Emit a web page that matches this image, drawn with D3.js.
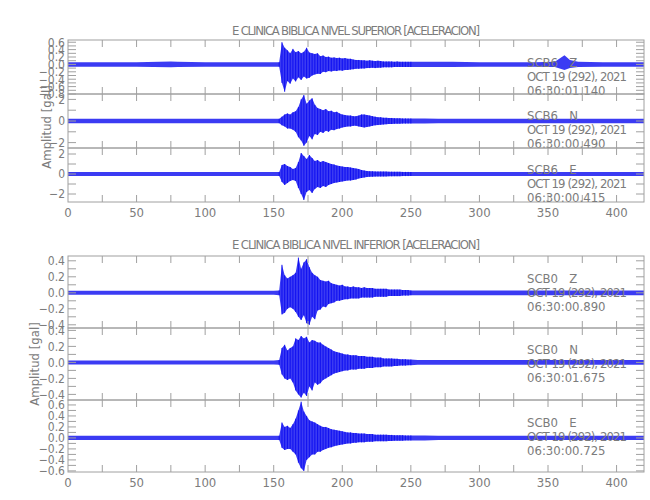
<!DOCTYPE html>
<html><head><meta charset="utf-8">
<script src="https://cdn.jsdelivr.net/npm/d3@7"></script>
<style>body{margin:0;background:#fff}</style>
</head><body><svg id="c" width="650" height="500"></svg>
<script>
// time grid (s)
const timeGrid = [0,25,50,75,80,100,125,150,
 154,156,158,160,162,164,166,168,170,172,
 174,176,178,180,182,184,186,188,190,192,
 194,196,198,200,202,204,206,208,210,212,
 214,216,218,220,222,224,226,228,230,232,
 234,236,238,240,242,244,246,248,250,
 255,260,270,280,300,320,340,355,362,366,372,390,420];

// SCB6 Z envelope
const scb6ZHi = [0.06,0.06,0.06,0.08,0.07,0.06,0.06,0.06,
 0.06,0.60,0.45,0.38,0.30,0.42,0.33,0.36,0.30,0.34,
 0.45,0.32,0.30,0.28,0.30,0.22,0.24,0.20,0.21,0.18,
 0.19,0.17,0.18,0.16,0.17,0.15,0.15,0.13,0.12,0.12,
 0.11,0.11,0.10,0.11,0.10,0.09,0.10,0.09,0.08,0.08,
 0.08,0.08,0.07,0.08,0.07,0.07,0.07,0.07,0.07,
 0.07,0.07,0.07,0.07,0.06,0.06,0.06,0.07,0.25,0.12,0.07,0.06,0.06];
const scb6ZLo = [-0.06,-0.06,-0.06,-0.08,-0.07,-0.06,-0.06,-0.06,
 -0.06,-0.50,-0.74,-0.45,-0.52,-0.38,-0.46,-0.35,-0.42,-0.33,
 -0.38,-0.36,-0.30,-0.27,-0.25,-0.26,-0.20,-0.21,-0.18,-0.19,
 -0.17,-0.18,-0.16,-0.17,-0.15,-0.15,-0.14,-0.13,-0.12,-0.12,
 -0.11,-0.11,-0.10,-0.10,-0.09,-0.10,-0.09,-0.09,-0.08,-0.08,
 -0.08,-0.08,-0.07,-0.07,-0.07,-0.07,-0.07,-0.07,-0.07,
 -0.07,-0.07,-0.07,-0.07,-0.06,-0.06,-0.06,-0.07,-0.15,-0.10,-0.07,-0.06,-0.06];

// SCB6 N envelope
const scb6NHi = [0.2,0.2,0.2,0.2,0.2,0.2,0.2,0.2,
 0.2,0.4,0.6,0.7,0.6,0.8,0.9,1.3,2.0,2.4,
 1.6,1.9,2.1,1.5,1.2,1.1,1.0,1.1,0.9,0.95,
 0.8,0.85,0.7,0.6,0.55,0.5,0.5,0.45,0.45,0.5,
 0.6,0.6,0.55,0.5,0.45,0.4,0.35,0.35,0.3,0.3,
 0.28,0.28,0.26,0.25,0.25,0.24,0.24,0.23,0.23,
 0.22,0.22,0.21,0.21,0.2,0.2,0.2,0.2,0.2,0.2,0.2,0.2,0.2];
const scb6NLo = [-0.2,-0.2,-0.2,-0.2,-0.2,-0.2,-0.2,-0.2,
 -0.2,-0.4,-0.5,-0.7,-0.7,-0.8,-1.0,-1.5,-1.8,-2.3,
 -2.0,-1.4,-1.7,-1.2,-1.3,-1.0,-1.1,-0.9,-1.0,-0.8,
 -0.85,-0.75,-0.7,-0.6,-0.55,-0.5,-0.5,-0.45,-0.45,-0.5,
 -0.55,-0.6,-0.55,-0.5,-0.45,-0.4,-0.38,-0.35,-0.32,-0.3,
 -0.28,-0.28,-0.26,-0.25,-0.25,-0.24,-0.24,-0.23,-0.23,
 -0.22,-0.22,-0.21,-0.21,-0.2,-0.2,-0.2,-0.2,-0.2,-0.2,-0.2,-0.2,-0.2];

// SCB6 E envelope
const scb6EHi = [0.2,0.2,0.2,0.2,0.2,0.2,0.2,0.2,
 0.2,0.9,1.0,0.8,0.7,0.5,0.6,1.2,2.1,1.8,
 1.5,1.9,1.6,1.3,1.4,1.2,1.3,1.2,1.1,1.0,
 0.95,0.85,0.8,0.75,0.7,0.7,0.65,0.6,0.55,0.5,
 0.4,0.35,0.3,0.28,0.27,0.26,0.25,0.25,0.24,0.24,
 0.23,0.23,0.22,0.22,0.22,0.21,0.21,0.21,0.2,
 0.2,0.2,0.2,0.2,0.2,0.2,0.2,0.2,0.2,0.2,0.2,0.2,0.2];
const scb6ELo = [-0.2,-0.2,-0.2,-0.2,-0.2,-0.2,-0.2,-0.2,
 -0.2,-0.8,-1.1,-0.9,-0.7,-0.6,-0.7,-1.4,-2.0,-2.6,
 -1.8,-1.6,-1.9,-1.5,-1.3,-1.4,-1.2,-1.3,-1.1,-1.0,
 -0.9,-0.85,-0.8,-0.75,-0.7,-0.65,-0.65,-0.6,-0.55,-0.45,
 -0.4,-0.35,-0.3,-0.28,-0.27,-0.26,-0.25,-0.25,-0.24,-0.24,
 -0.23,-0.23,-0.22,-0.22,-0.22,-0.21,-0.21,-0.21,-0.2,
 -0.2,-0.2,-0.2,-0.2,-0.2,-0.2,-0.2,-0.2,-0.2,-0.2,-0.2,-0.2,-0.2];

// SCB0 Z envelope
const scb0ZHi = [0.025,0.025,0.025,0.025,0.025,0.025,0.025,0.025,
 0.03,0.35,0.22,0.18,0.20,0.22,0.25,0.44,0.30,0.38,
 0.42,0.32,0.25,0.22,0.20,0.16,0.15,0.14,0.15,0.12,
 0.11,0.10,0.09,0.10,0.08,0.08,0.07,0.08,0.07,0.07,
 0.06,0.07,0.06,0.06,0.06,0.05,0.05,0.05,0.05,0.05,
 0.04,0.04,0.04,0.04,0.04,0.035,0.035,0.035,0.03,
 0.03,0.03,0.03,0.03,0.03,0.03,0.03,0.03,0.03,0.03,0.03,0.03,0.03];
const scb0ZLo = [-0.025,-0.025,-0.025,-0.025,-0.025,-0.025,-0.025,-0.025,
 -0.03,-0.27,-0.25,-0.20,-0.18,-0.20,-0.24,-0.30,-0.34,-0.28,
 -0.38,-0.40,-0.30,-0.33,-0.22,-0.21,-0.17,-0.18,-0.14,-0.13,
 -0.12,-0.10,-0.10,-0.09,-0.08,-0.08,-0.07,-0.07,-0.07,-0.07,
 -0.06,-0.06,-0.06,-0.06,-0.06,-0.05,-0.05,-0.05,-0.05,-0.05,
 -0.04,-0.04,-0.04,-0.04,-0.04,-0.035,-0.035,-0.035,-0.03,
 -0.03,-0.03,-0.03,-0.03,-0.03,-0.03,-0.03,-0.03,-0.03,-0.03,-0.03,-0.03,-0.03];

// SCB0 N envelope
const scb0NHi = [0.025,0.025,0.025,0.025,0.025,0.025,0.025,0.025,
 0.03,0.18,0.22,0.15,0.18,0.20,0.30,0.28,0.33,0.30,
 0.32,0.25,0.28,0.27,0.25,0.25,0.22,0.20,0.18,0.16,
 0.14,0.13,0.12,0.11,0.10,0.10,0.09,0.09,0.09,0.08,
 0.08,0.08,0.07,0.07,0.07,0.06,0.06,0.06,0.05,0.05,
 0.05,0.05,0.045,0.045,0.04,0.04,0.04,0.035,0.035,
 0.03,0.03,0.03,0.03,0.03,0.03,0.03,0.03,0.03,0.03,0.03,0.03,0.03];
const scb0NLo = [-0.025,-0.025,-0.025,-0.025,-0.025,-0.025,-0.025,-0.025,
 -0.03,-0.15,-0.20,-0.22,-0.20,-0.25,-0.35,-0.40,-0.44,-0.38,
 -0.42,-0.30,-0.35,-0.25,-0.28,-0.26,-0.22,-0.20,-0.18,-0.16,
 -0.14,-0.13,-0.12,-0.11,-0.10,-0.10,-0.09,-0.09,-0.09,-0.08,
 -0.08,-0.08,-0.07,-0.07,-0.07,-0.06,-0.06,-0.06,-0.05,-0.05,
 -0.05,-0.05,-0.045,-0.045,-0.04,-0.04,-0.04,-0.035,-0.035,
 -0.03,-0.03,-0.03,-0.03,-0.03,-0.03,-0.03,-0.03,-0.03,-0.03,-0.03,-0.03,-0.03];

// SCB0 E envelope
const scb0EHi = [0.04,0.04,0.04,0.04,0.04,0.04,0.04,0.04,
 0.04,0.28,0.20,0.22,0.18,0.25,0.35,0.50,0.66,0.48,
 0.40,0.32,0.30,0.28,0.25,0.22,0.20,0.20,0.18,0.16,
 0.15,0.14,0.13,0.12,0.11,0.10,0.10,0.09,0.09,0.08,
 0.08,0.08,0.07,0.07,0.07,0.06,0.06,0.06,0.06,0.06,
 0.055,0.055,0.05,0.05,0.05,0.05,0.045,0.045,0.045,
 0.045,0.045,0.04,0.04,0.04,0.04,0.04,0.04,0.04,0.04,0.04,0.04,0.04];
const scb0ELo = [-0.04,-0.04,-0.04,-0.04,-0.04,-0.04,-0.04,-0.04,
 -0.04,-0.18,-0.22,-0.20,-0.20,-0.25,-0.30,-0.45,-0.55,-0.60,
 -0.40,-0.35,-0.30,-0.30,-0.25,-0.25,-0.22,-0.20,-0.18,-0.17,
 -0.15,-0.14,-0.13,-0.12,-0.11,-0.10,-0.10,-0.09,-0.09,-0.08,
 -0.08,-0.08,-0.07,-0.07,-0.07,-0.06,-0.06,-0.06,-0.06,-0.06,
 -0.055,-0.055,-0.05,-0.05,-0.05,-0.05,-0.045,-0.045,-0.045,
 -0.045,-0.045,-0.04,-0.04,-0.04,-0.04,-0.04,-0.04,-0.04,-0.04,-0.04,-0.04,-0.04];

const groupTitles = ["E CLINICA BIBLICA NIVEL SUPERIOR [ACELERACION]",
                     "E CLINICA BIBLICA NIVEL INFERIOR [ACELERACION]"];
const stationLabels = ["SCB6   Z","SCB6   N","SCB6   E","SCB0   Z","SCB0   N","SCB0   E"];
const dateLabel = "OCT 19 (292), 2021";
const startTimes = ["06:30:01.140","06:30:00.490","06:30:00.415",
                    "06:30:00.890","06:30:01.675","06:30:00.725"];
const yAxisTitle = "Amplitud [gal]";
const xDomain = [0, 420];
const xTickLabels = [0,50,100,150,200,250,300,350,400];
const xMinorTicks = d3.range(0, 420, 25);
const yDomains = [[-0.8,0.66],[-2.5,2.5],[-2.8,2.6],[-0.44,0.46],[-0.47,0.43],[-0.62,0.69]];
const yLabelValues = [[0.6,0.4,0.2,0,-0.2,-0.4,-0.6,-0.8],[2,0,-2],[2,0,-2],
                      [0.4,0.2,0,-0.2,-0.4],[0.4,0.2,0,-0.2,-0.4],[0.6,0.4,0.2,0,-0.2,-0.4,-0.6]];
const yTickStep = [0.1,1,1,0.1,0.1,0.1];
const yDecimals = [1,0,0,1,1,1];

const hiSeries = [scb6ZHi,scb6NHi,scb6EHi,scb0ZHi,scb0NHi,scb0EHi];
const loSeries = [scb6ZLo,scb6NLo,scb6ELo,scb0ZLo,scb0NLo,scb0ELo];

// ---- layout ----
const svg = d3.select("#c");
const left = 68, right = 644;
const panelRows = [[40,94],[94,148],[148,202],[256,328],[328,400],[400,472]];
const FONT = "'Liberation Sans Narrow','DejaVu Sans Condensed',sans-serif";
const TXT = "#7c7c7c", AX = "#a0a0a0", TRACE = "#0a0af0";
const x = d3.scaleLinear().domain(xDomain).range([left, right]);
const fmtMinus = s => s.replace("-", "\u2212");

const defs = svg.append("defs");

panelRows.forEach(([top, bot], i) => {
  const y = d3.scaleLinear().domain(yDomains[i]).range([bot, top]);
  defs.append("clipPath").attr("id","cp"+i).append("rect")
    .attr("x",left).attr("y",top).attr("width",right-left).attr("height",bot-top);
  const g = svg.append("g");
  const data = timeGrid.map((t,k)=>({t, hi:hiSeries[i][k], lo:loSeries[i][k]}));
  const tr = g.append("g").attr("clip-path","url(#cp"+i+")");
  const area = d3.area().x(d=>x(d.t)).y0(d=>y(d.lo)).y1(d=>y(d.hi));
  tr.append("path").datum(data).attr("d",area)
    .attr("fill",TRACE).attr("fill-opacity",0.8).attr("stroke","none");
  tr.selectAll("line.v").data(data.filter(d=>d.t>=154 && d.t<=250)).join("line")
    .attr("x1",d=>x(d.t)).attr("x2",d=>x(d.t))
    .attr("y1",d=>y(d.lo)).attr("y2",d=>y(d.hi))
    .attr("stroke",TRACE).attr("stroke-width",0.9);

  // frame
  g.append("rect").attr("x",left).attr("y",top).attr("width",right-left).attr("height",bot-top)
    .attr("fill","none").attr("stroke",AX).attr("stroke-width",1);
  // x ticks top & bottom
  g.selectAll("line.xt").data(xMinorTicks.filter(v=>v>0)).join("line")
    .attr("x1",d=>x(d)).attr("x2",d=>x(d)).attr("y1",top).attr("y2",top+7)
    .attr("stroke",AX);
  g.selectAll("line.xb").data(xMinorTicks.filter(v=>v>0)).join("line")
    .attr("x1",d=>x(d)).attr("x2",d=>x(d)).attr("y1",bot).attr("y2",bot-7)
    .attr("stroke",AX);
  // y ticks
  const [d0,d1] = yDomains[i];
  const st = yTickStep[i];
  const yt = d3.range(Math.ceil(d0/st-1e-6), Math.floor(d1/st+1e-6)+1).map(k=>k*st);
  g.selectAll("line.yl").data(yt).join("line")
    .attr("x1",left).attr("x2",left+8).attr("y1",d=>y(d)).attr("y2",d=>y(d)).attr("stroke",AX);
  g.selectAll("line.yr").data(yt).join("line")
    .attr("x1",right).attr("x2",right-8).attr("y1",d=>y(d)).attr("y2",d=>y(d)).attr("stroke",AX);
  // y labels
  g.selectAll("text.yl").data(yLabelValues[i]).join("text")
    .attr("x",left-3).attr("y",d=>y(d)).attr("dy","0.36em")
    .attr("text-anchor","end").attr("font-family",FONT).attr("font-size",12)
    .attr("fill",TXT).text(d=>fmtMinus(d.toFixed(yDecimals[i])));
  // annotations
  const ann = g.append("g").attr("font-family",FONT).attr("font-size",13).attr("fill",TXT);
  const a0 = [62,115,169,278,349,422][i];
  ann.append("text").attr("x",527).attr("y",a0).attr("dy","0.36em").attr("xml:space","preserve").text(stationLabels[i]);
  ann.append("text").attr("x",527).attr("y",a0+14).attr("dy","0.36em")
    .attr("textLength",100).attr("lengthAdjust","spacing").text(dateLabel);
  ann.append("text").attr("x",527).attr("y",a0+28).attr("dy","0.36em").text(startTimes[i]);
});

// x labels & titles
[[202,30,127,46],[472,244,364,34]].forEach(([bot,ty,cy,ax],gi)=>{
  svg.selectAll("text.xl"+gi).data(xTickLabels).join("text")
    .attr("x",d=>x(d)).attr("y",bot+10).attr("dy","0.36em").attr("text-anchor","middle")
    .attr("font-family",FONT).attr("font-size",13).attr("fill",TXT).text(d=>d);
  svg.append("text").attr("x",(left+right)/2).attr("y",ty).attr("dy","0.36em")
    .attr("text-anchor","middle").attr("font-family",FONT).attr("font-size",13)
    .attr("fill",TXT).attr("textLength",248).attr("lengthAdjust","spacing").text(groupTitles[gi]);
  svg.append("text").attr("transform",`translate(${ax},${cy}) rotate(-90)`)
    .attr("text-anchor","middle").attr("dy","0.36em").attr("font-family",FONT).attr("font-size",13)
    .attr("fill",TXT).text(yAxisTitle);
});
</script></body></html>
